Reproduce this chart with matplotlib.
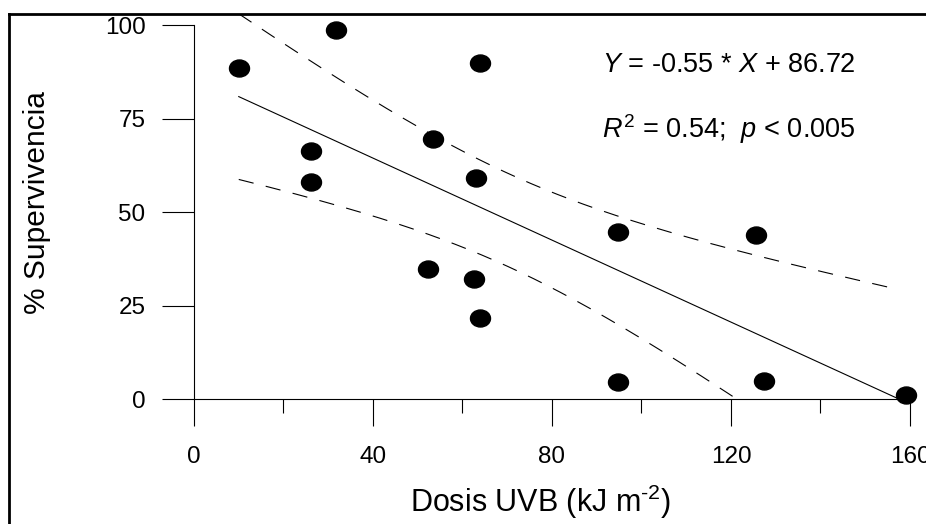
import numpy as np
import matplotlib
matplotlib.use("Agg")
import matplotlib.pyplot as plt
from matplotlib.path import Path
from matplotlib.transforms import Affine2D
from matplotlib.lines import Line2D

plt.rcParams['font.family'] = ['Liberation Sans', 'DejaVu Sans']
plt.rcParams['mathtext.fontset'] = 'custom'
plt.rcParams['mathtext.rm'] = 'Liberation Sans'
plt.rcParams['mathtext.it'] = 'Liberation Sans:italic'
plt.rcParams['lines.scale_dashes'] = False

# UVB dose (kJ m-2) and survival (%)
dosis = [10.0, 31.7, 26.1, 26.1, 53.3, 63.9, 63.1, 94.8, 125.6,
         52.4, 62.6, 63.9, 94.8, 127.4, 159.1]
superv = [88.5, 98.7, 66.3, 58.0, 69.5, 89.8, 59.1, 44.6, 43.9,
          34.8, 32.1, 21.7, 4.5, 4.8, 1.1]

x_ticks = [0, 40, 80, 120, 160]
x_minor = [20, 60, 100, 140]
y_ticks = [0, 25, 50, 75, 100]

eq_text = "$Y$ = -0.55 * $X$ + 86.72"
r2_text = "$R^{\\mathrm{2}}$ = 0.54;  $p$ < 0.005"


def regression_band(x, y, xs, t=2.160):
    """Least squares fit with 95% confidence band for the mean"""
    x = np.asarray(x)
    y = np.asarray(y)
    n = len(x)
    b, a = np.polyfit(x, y, 1)
    resid = y - (a + b * x)
    s = np.sqrt(np.sum(resid ** 2) / (n - 2))
    sxx = np.sum((x - x.mean()) ** 2)
    fit = a + b * xs
    half = t * s * np.sqrt(1.0 / n + (xs - x.mean()) ** 2 / sxx)
    return a, b, fit, fit - half, fit + half


fig = plt.figure(figsize=(9.26, 5.24), dpi=100)
ax = fig.add_axes([0.2095, 0.2385, 0.7732, 0.7347])

xs = np.linspace(min(dosis), 156, 200)
a, b, fit, lo, hi = regression_band(dosis, superv, xs)

xl = np.linspace(min(dosis), max(dosis), 50)
ax.plot(xl, a + b * xl, color='black', lw=0.8)
ax.plot(xs, lo, color='black', lw=0.8, dashes=(11, 9))
ax.plot(xs, hi, color='black', lw=0.8, dashes=(11, 9))

# slightly wide ellipse marker like the original
ell = Path.unit_circle().transformed(Affine2D().scale(1.0, 0.85))
ax.plot(dosis, superv, linestyle='none', marker=ell, markersize=14.4,
        color='black', clip_on=False, zorder=5)

ax.set_xlim(0, 160)
ax.set_ylim(0, 103)
ax.spines['top'].set_visible(False)
ax.spines['right'].set_visible(False)
ax.spines['left'].set_bounds(0, 100)
ax.spines['left'].set_linewidth(0.8)
ax.spines['bottom'].set_linewidth(0.8)

ax.set_xticks(x_ticks)
ax.set_xticks(x_minor, minor=True)
ax.set_yticks(y_ticks)
ax.tick_params(axis='x', which='major', length=19.5, width=0.8, pad=14, labelsize=17.5)
ax.tick_params(axis='x', which='minor', length=10, width=0.8)
ax.tick_params(axis='y', which='major', length=23, width=0.8, pad=12, labelsize=17.5)

fig.text(0.040, 0.6126, "% Supervivencia", rotation=90, fontsize=21.5,
         ha='center', va='center')
fig.text(0.584, 0.022, "Dosis UVB (kJ m$^{\\text{-2}}$)", fontsize=22,
         ha='center', va='baseline')

fig.text(0.650, 0.8626, eq_text, fontsize=19.5, ha='left', va='baseline')
fig.text(0.650, 0.7366, r2_text, fontsize=19.5, ha='left', va='baseline')

# outer frame (left and top edges)
fx = 8.5 / 926
fy = 1 - 13.5 / 524
fig.add_artist(Line2D([fx, fx], [0, fy], transform=fig.transFigure,
                      color='black', lw=2))
fig.add_artist(Line2D([fx, 1], [fy, fy], transform=fig.transFigure,
                      color='black', lw=2))

fig.savefig("out.png", dpi=100)
